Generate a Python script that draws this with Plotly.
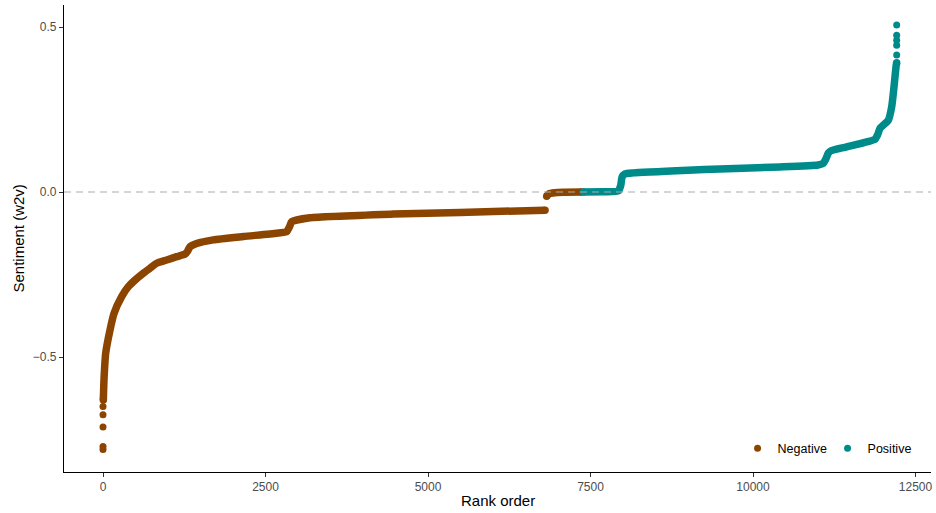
import plotly.graph_objects as go

# ---- data (rank order vs sentiment) ----
neg_rank = [5, 15, 41, 108, 169, 287, 390, 492, 620, 723, 826, 980, 1133, 1262, 1300, 1338,
            1441, 1697, 2159, 2672, 2826, 2870, 2903, 3185, 4466, 5492, 6800,
            None, 6826, 6860, 6950, 7100, 7360]
neg_value = [-0.630, -0.570, -0.489, -0.418, -0.368, -0.317, -0.287, -0.267, -0.246, -0.231,
             -0.216, -0.206, -0.196, -0.188, -0.180, -0.166, -0.156, -0.145, -0.135, -0.125,
             -0.120, -0.105, -0.090, -0.078, -0.067, -0.062, -0.055,
             None, -0.013, -0.005, -0.002, -0.001, 0.000]
neg_out_rank = [0, 0, 0, 0, 0]
neg_out_value = [-0.780, -0.771, -0.712, -0.675, -0.650]

pos_rank = [7390, 7700, 7928, 7965, 7985, 8030, 8159, 9000, 9492, 10415, 11000, 11082,
            11120, 11159, 11200, 11441, 11877, 11920, 11954, 12082, 12133, 12169, 12200, 12210]
pos_value = [0.000, 0.001, 0.003, 0.020, 0.045, 0.055, 0.058, 0.066, 0.070, 0.076, 0.082,
             0.087, 0.100, 0.118, 0.125, 0.137, 0.160, 0.175, 0.193, 0.218, 0.258, 0.319,
             0.380, 0.392]
pos_out_rank = [12210, 12210, 12210, 12210, 12210]
pos_out_value = [0.415, 0.445, 0.460, 0.475, 0.506]

x_ticks = [0, 2500, 5000, 7500, 10000, 12500]
y_ticks = [-0.5, 0.0, 0.5]
y_tick_labels = ["\u22120.5", "0.0", "0.5"]

NEG = "#8B4500"
POS = "#008B8B"
FONT = "Liberation Sans, Arial, sans-serif"

fig = go.Figure()
fig.add_trace(go.Scatter(x=neg_rank, y=neg_value, mode="lines",
                         line=dict(color=NEG, width=7.5, shape="spline", smoothing=0.5),
                         connectgaps=False, showlegend=False, hoverinfo="skip"))
fig.add_trace(go.Scatter(x=[neg_rank[0], neg_rank[26], neg_rank[28], neg_rank[-1]],
                         y=[neg_value[0], neg_value[26], neg_value[28], neg_value[-1]],
                         mode="markers", marker=dict(color=NEG, size=7.5),
                         showlegend=False, hoverinfo="skip"))
fig.add_trace(go.Scatter(x=neg_out_rank, y=neg_out_value, mode="markers", name="Negative",
                         marker=dict(color=NEG, size=7)))
fig.add_trace(go.Scatter(x=pos_rank, y=pos_value, mode="lines",
                         line=dict(color=POS, width=7.5, shape="spline", smoothing=0.5),
                         showlegend=False, hoverinfo="skip"))
fig.add_trace(go.Scatter(x=[pos_rank[0], pos_rank[-1]], y=[pos_value[0], pos_value[-1]],
                         mode="markers", marker=dict(color=POS, size=7.5),
                         showlegend=False, hoverinfo="skip"))
fig.add_trace(go.Scatter(x=pos_out_rank, y=pos_out_value, mode="markers", name="Positive",
                         marker=dict(color=POS, size=7)))

fig.add_shape(type="line", xref="paper", x0=0, x1=1, yref="y", y0=0, y1=0,
              line=dict(color="#ABABAB", width=1.1, dash="7px,5px"), layer="above")

axis_common = dict(showline=True, linecolor="black", linewidth=1.1, ticks="outside",
                   ticklen=4, tickcolor="#333333", tickwidth=1.1, showgrid=False,
                   zeroline=False, tickfont=dict(family=FONT, size=12, color="#4D4D4D"),
                   mirror=False, automargin=False)

fig.update_layout(
    width=936, height=513,
    margin=dict(l=64, r=5, t=5, b=41),
    plot_bgcolor="white", paper_bgcolor="white",
    font=dict(family=FONT),
    xaxis=dict(range=[-600, 12738], tickvals=x_ticks,
               ticktext=[str(v) for v in x_ticks], **axis_common),
    yaxis=dict(range=[-0.8485, 0.5667], tickvals=y_ticks, ticktext=y_tick_labels,
               **axis_common),
    legend=dict(orientation="h", x=0.9845, xanchor="right", y=0.05, yanchor="middle",
                font=dict(family=FONT, size=12.5, color="black"), bgcolor="rgba(0,0,0,0)",
                itemwidth=30, entrywidth=45, entrywidthmode="pixels"),
    annotations=[
        dict(text="Rank order", xref="paper", yref="paper", x=0.5, y=0,
             xanchor="center", yanchor="top", yshift=-18, showarrow=False,
             font=dict(family=FONT, size=15, color="black")),
        dict(text="Sentiment (w2v)", xref="paper", yref="paper", x=0, y=0.5,
             xanchor="center", yanchor="middle", xshift=-46, textangle=-90,
             showarrow=False, font=dict(family=FONT, size=15, color="black")),
    ],
)

fig.write_html("out.html", config={"displayModeBar": False},
               post_script="document.body.style.margin='0';document.body.style.overflow='hidden';")
